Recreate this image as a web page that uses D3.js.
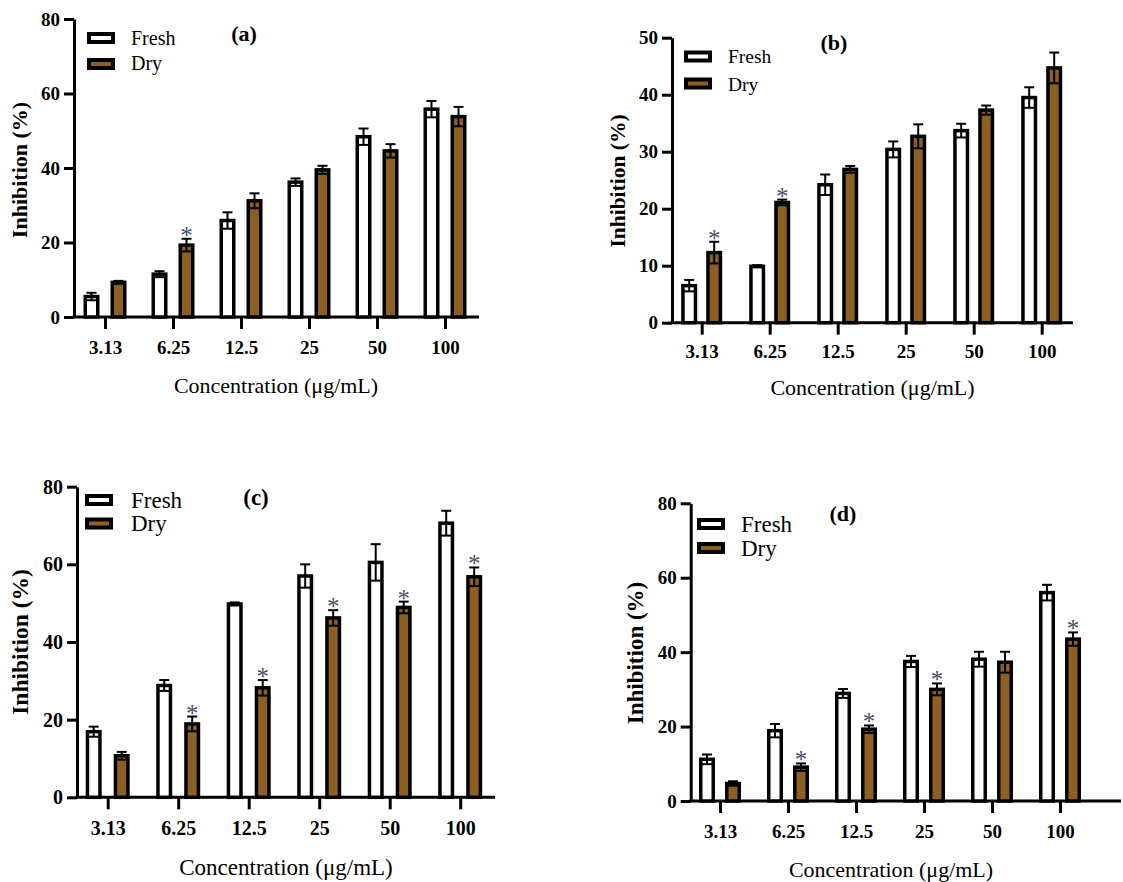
<!DOCTYPE html>
<html>
<head>
<meta charset="utf-8">
<script src="https://cdn.jsdelivr.net/npm/d3@7"></script>
<style>
  body { margin: 0; background: #fff; }
  svg { display: block; }
</style>
</head>
<body>
<div class="draw-chart"></div>
<script>
// shared categories
const concentrations = ["3.13", "6.25", "12.5", "25", "50", "100"];
const seriesNames = ["Fresh", "Dry"];

// panel (a)
const freshA = [5.5, 11.5, 25.9, 36.2, 48.4, 55.8];
const freshErrA = [1.0, 0.8, 2.2, 1.0, 2.2, 2.2];
const dryA = [9.3, 19.3, 31.2, 39.5, 44.6, 53.8];
const dryErrA = [0.4, 1.7, 2.0, 1.1, 1.8, 2.6];
const sigA = [false, true, false, false, false, false];
const yTicksA = [0, 20, 40, 60, 80];

// panel (b)
const freshB = [6.5, 9.9, 24.2, 30.4, 33.7, 39.5];
const freshErrB = [1.0, 0.2, 1.8, 1.4, 1.2, 1.8];
const dryB = [12.3, 21.1, 26.9, 32.7, 37.3, 44.7];
const dryErrB = [1.9, 0.5, 0.6, 2.1, 0.8, 2.7];
const sigB = [true, true, false, false, false, false];
const yTicksB = [0, 10, 20, 30, 40, 50];

// panel (c)
const freshC = [16.9, 28.8, 49.8, 57.0, 60.5, 70.6];
const freshErrC = [1.3, 1.4, 0.4, 3.0, 4.7, 3.2];
const dryC = [10.7, 18.9, 28.2, 46.2, 48.9, 56.8];
const dryErrC = [1.0, 1.9, 2.0, 2.0, 1.5, 2.4];
const sigC = [false, true, true, true, true, true];
const yTicksC = [0, 20, 40, 60, 80];

// panel (d)
const freshD = [11.2, 18.9, 28.9, 37.5, 38.1, 56.0];
const freshErrD = [1.3, 1.8, 1.2, 1.5, 2.0, 2.1];
const dryD = [4.7, 9.1, 19.3, 30.0, 37.3, 43.5];
const dryErrD = [0.6, 1.0, 1.0, 1.6, 2.8, 1.8];
const sigD = [false, true, true, true, false, true];
const yTicksD = [0, 20, 40, 60, 80];

const brown = "#8c6023";
const starColor = "#46506a";
const serif = "'Liberation Serif', 'Times New Roman', serif";

const panels = [
  { label: "(a)", fresh: freshA, freshErr: freshErrA, dry: dryA, dryErr: dryErrA, sig: sigA, yTicks: yTicksA,
    axisX: 74, y0: 317, yTop: 19, xEnd: 479, tick0: 105, tickStep: 68, off: 13.5,
    tickFont: 19, titleFont: 22, yTitleFont: 22, legFont: 20, labFont: 22,
    tickBase: 354, xTitleX: 276, xTitleBase: 393, yTitleX: 27, yTitleY: 170,
    legX: 87, legY: [38, 64], legTextX: 131, legBase: [45, 70], labX: 244, labBase: 41 },
  { label: "(b)", fresh: freshB, freshErr: freshErrB, dry: dryB, dryErr: dryErrB, sig: sigB, yTicks: yTicksB,
    axisX: 672, y0: 322.7, yTop: 37.7, xEnd: 1073, tick0: 701.7, tickStep: 68, off: 12.5,
    tickFont: 19, titleFont: 22, yTitleFont: 21.5, legFont: 19.5, labFont: 22,
    tickBase: 358, xTitleX: 872.5, xTitleBase: 395, yTitleX: 625, yTitleY: 181,
    legX: 684, legY: [56.5, 83.5], legTextX: 728, legBase: [63, 90.5], labX: 834, labBase: 50 },
  { label: "(c)", fresh: freshC, freshErr: freshErrC, dry: dryC, dryErr: dryErrC, sig: sigC, yTicks: yTicksC,
    axisX: 77, y0: 797.3, yTop: 486.7, xEnd: 495, tick0: 107.7, tickStep: 70.5, off: 14,
    tickFont: 20, titleFont: 23, yTitleFont: 23.5, legFont: 23, labFont: 23,
    tickBase: 835, xTitleX: 286, xTitleBase: 875, yTitleX: 28, yTitleY: 642,
    legX: 85, legY: [500, 523.5], legTextX: 131, legBase: [508, 531], labX: 256, labBase: 505 },
  { label: "(d)", fresh: freshD, freshErr: freshErrD, dry: dryD, dryErr: dryErrD, sig: sigD, yTicks: yTicksD,
    axisX: 690.7, y0: 801, yTop: 503.3, xEnd: 1121, tick0: 720, tickStep: 68, off: 13,
    tickFont: 19, titleFont: 22, yTitleFont: 23, legFont: 23, labFont: 22,
    tickBase: 838, xTitleX: 891, xTitleBase: 877, yTitleX: 643, yTitleY: 653,
    legX: 697, legY: [524, 548], legTextX: 741, legBase: [531.5, 556], labX: 843, labBase: 521 }
];

const svg = d3.select(".draw-chart")
  .append("svg")
  .attr("width", 1123)
  .attr("height", 882)
  .style("font-family", serif);

const barW = 16;
const stroke = 3.5;

panels.forEach(function (p) {
  const g = svg.append("g");
  const yMax = p.yTicks[p.yTicks.length - 1];

  const y = d3.scaleLinear().domain([0, yMax]).range([p.y0, p.yTop]);
  const x = d3.scalePoint()
    .domain(concentrations)
    .range([p.tick0, p.tick0 + p.tickStep * (concentrations.length - 1)]);

  // Y axis
  const yAxis = g.append("g")
    .attr("transform", "translate(" + p.axisX + ",0)")
    .call(d3.axisLeft(y).tickValues(p.yTicks).tickSize(10).tickPadding(4).tickSizeOuter(0));
  yAxis.attr("font-family", null);
  yAxis.select(".domain").attr("stroke-width", 3);
  yAxis.selectAll(".tick line").attr("stroke-width", 3);
  yAxis.selectAll(".tick text")
    .attr("font-size", p.tickFont)
    .attr("font-weight", "bold")
    .attr("fill", "#000")
    .style("font-family", serif);

  // X axis line across the full panel width
  g.append("line")
    .attr("x1", p.axisX - 1.5).attr("x2", p.xEnd)
    .attr("y1", p.y0).attr("y2", p.y0)
    .attr("stroke", "#000").attr("stroke-width", 3);

  const xAxis = g.append("g")
    .attr("transform", "translate(0," + p.y0 + ")")
    .call(d3.axisBottom(x).tickSize(12).tickSizeOuter(0));
  xAxis.attr("font-family", null);
  xAxis.select(".domain").remove();
  xAxis.selectAll(".tick line").attr("stroke-width", 3);
  xAxis.selectAll(".tick text")
    .attr("y", p.tickBase - p.y0)
    .attr("dy", 0)
    .attr("font-size", p.tickFont)
    .attr("font-weight", "bold")
    .attr("fill", "#000")
    .style("font-family", serif);

  // bars + error bars
  const groups = [
    { vals: p.fresh, errs: p.freshErr, fill: "#fff", dx: -p.off, sig: null },
    { vals: p.dry, errs: p.dryErr, fill: brown, dx: p.off, sig: p.sig }
  ];
  groups.forEach(function (s) {
    const rows = concentrations.map(function (c, i) {
      return { c: c, v: s.vals[i], e: s.errs[i], star: s.sig ? s.sig[i] : false };
    });
    const cx = function (d) { return x(d.c) + s.dx; };

    g.selectAll(null).data(rows).enter().append("rect")
      .attr("x", function (d) { return cx(d) - (barW - stroke) / 2; })
      .attr("y", function (d) { return y(d.v); })
      .attr("width", barW - stroke)
      .attr("height", function (d) { return p.y0 - y(d.v); })
      .attr("fill", s.fill)
      .attr("stroke", "#000")
      .attr("stroke-width", stroke);

    // vertical error line
    g.selectAll(null).data(rows).enter().append("line")
      .attr("x1", cx).attr("x2", cx)
      .attr("y1", function (d) { return y(d.v - d.e); })
      .attr("y2", function (d) { return y(d.v + d.e); })
      .attr("stroke", "#000").attr("stroke-width", 2);
    // caps
    [1, -1].forEach(function (sign) {
      g.selectAll(null).data(rows).enter().append("line")
        .attr("x1", function (d) { return cx(d) - 5; })
        .attr("x2", function (d) { return cx(d) + 5; })
        .attr("y1", function (d) { return y(d.v + sign * d.e); })
        .attr("y2", function (d) { return y(d.v + sign * d.e); })
        .attr("stroke", "#000").attr("stroke-width", 2);
    });

    // significance asterisks
    g.selectAll(null).data(rows.filter(function (d) { return d.star; })).enter().append("text")
      .attr("x", cx)
      .attr("y", function (d) { return y(d.v + d.e) + 5; })
      .attr("text-anchor", "middle")
      .attr("font-size", 25)
      .attr("fill", starColor)
      .style("font-family", serif)
      .text("*");
  });

  // axis titles
  g.append("text")
    .attr("x", p.xTitleX)
    .attr("y", p.xTitleBase)
    .attr("text-anchor", "middle")
    .attr("font-size", p.titleFont)
    .style("font-family", serif)
    .text("Concentration (μg/mL)");

  g.append("text")
    .attr("transform", "translate(" + p.yTitleX + "," + p.yTitleY + ") rotate(-90)")
    .attr("text-anchor", "middle")
    .attr("font-size", p.yTitleFont)
    .attr("font-weight", "bold")
    .style("font-family", serif)
    .text("Inhibition (%)");

  // legend
  seriesNames.forEach(function (name, i) {
    g.append("rect")
      .attr("x", p.legX + 2)
      .attr("y", p.legY[i] - 4)
      .attr("width", 24)
      .attr("height", 8)
      .attr("fill", i === 0 ? "#fff" : brown)
      .attr("stroke", "#000")
      .attr("stroke-width", 4);
    g.append("text")
      .attr("x", p.legTextX)
      .attr("y", p.legBase[i])
      .attr("font-size", p.legFont)
      .style("font-family", serif)
      .text(name);
  });

  // panel label
  g.append("text")
    .attr("x", p.labX)
    .attr("y", p.labBase)
    .attr("text-anchor", "middle")
    .attr("font-size", p.labFont)
    .attr("font-weight", "bold")
    .style("font-family", serif)
    .text(p.label);
});
</script>
</body>
</html>
